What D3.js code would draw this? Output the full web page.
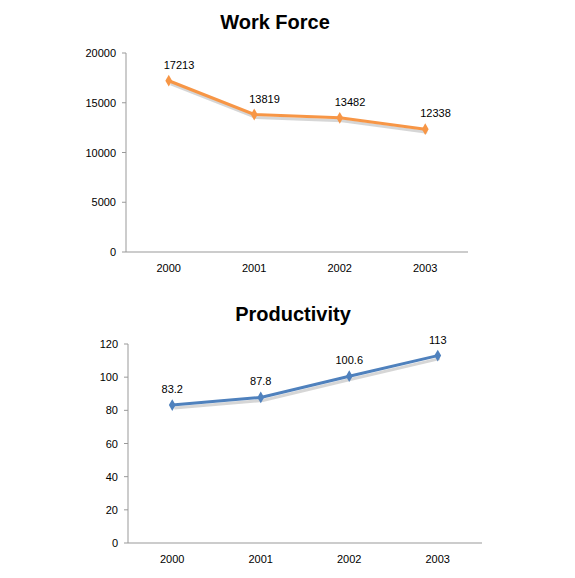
<!DOCTYPE html>
<html><head><meta charset="utf-8">
<script src="https://cdn.jsdelivr.net/npm/d3@7"></script>
<style>body{margin:0;background:#fff;font-family:"Liberation Sans",Arial,sans-serif}</style>
</head><body><svg id="c" width="575" height="578"></svg>
<script>
const years = ["2000","2001","2002","2003"];
const workForce = [17213,13819,13482,12338];
const productivity = [83.2,87.8,100.6,113];
const wfTicks = [0,5000,10000,15000,20000];
const prTicks = [0,20,40,60,80,100,120];

const svg = d3.select("#c");
function chart(o){
  const g = svg.append("g");
  g.append("text").attr("x",o.tx).attr("y",o.ty).attr("text-anchor","middle")
   .attr("font-size",20).attr("font-weight","bold").text(o.title);
  const x = d3.scalePoint().domain(years).range([o.x0,o.x1]).padding(0.5);
  const y = d3.scaleLinear().domain([0,o.max]).range([o.y0,o.y1]);
  g.append("line").attr("x1",o.x0).attr("x2",o.x0).attr("y1",o.y0).attr("y2",o.y1).attr("stroke","#999");
  g.append("line").attr("x1",o.x0).attr("x2",o.x1).attr("y1",o.y0).attr("y2",o.y0).attr("stroke","#999");
  o.ticks.forEach(t=>{
    g.append("line").attr("x1",o.x0-4).attr("x2",o.x0).attr("y1",y(t)).attr("y2",y(t)).attr("stroke","#999");
    g.append("text").attr("x",o.x0-10).attr("y",y(t)+4).attr("text-anchor","end").attr("font-size",11).text(t);
  });
  years.forEach(d=>{
    g.append("text").attr("x",x(d)).attr("y",o.y0+20).attr("text-anchor","middle").attr("font-size",11).text(d);
  });
  const line = d3.line().x((d,i)=>x(years[i])).y(d=>y(d));
  g.append("path").datum(o.data).attr("d",line).attr("fill","none").attr("stroke","#bbb")
   .attr("stroke-width",3).attr("opacity",0.6).attr("transform","translate(2,3)");
  g.append("path").datum(o.data).attr("d",line).attr("fill","none").attr("stroke",o.color).attr("stroke-width",3);
  const sym = d3.symbol().type(d3.symbolDiamond).size(40);
  o.data.forEach((v,i)=>{
    g.append("path").attr("d",sym).attr("fill",o.color)
     .attr("transform",`translate(${x(years[i])},${y(v)})`);
    g.append("text").attr("x",x(years[i])+o.lx).attr("y",y(v)-12).attr("font-size",11)
     .attr("text-anchor",o.la).text(v);
  });
}
chart({title:"Work Force",tx:275,ty:29,x0:126,x1:468,y0:252,y1:53,max:20000,ticks:wfTicks,
  data:workForce,color:"#f79646",lx:-5,la:"start"});
chart({title:"Productivity",tx:293,ty:321,x0:128,x1:482,y0:543,y1:344,max:120,ticks:prTicks,
  data:productivity,color:"#4f81bd",lx:0,la:"middle"});
</script></body></html>
